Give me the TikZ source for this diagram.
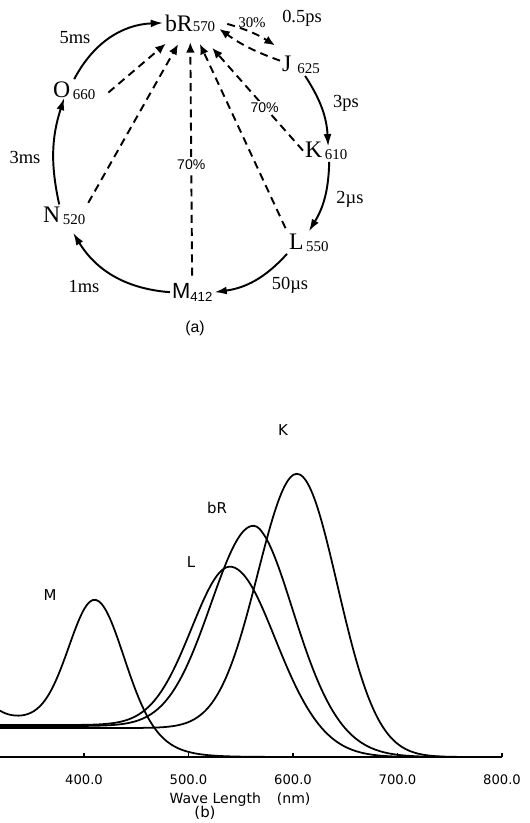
\documentclass[tikz,border=0pt]{standalone}
\usepackage{fontspec}
\setmainfont{Liberation Serif}
\setsansfont{Liberation Sans}
\newfontfamily\plotfont{DejaVu Sans}
\usepackage{tikz}
\usetikzlibrary{positioning,arrows.meta}
\newcommand{\ssub}[1]{\raisebox{-1.5pt}{\fontsize{8.5}{9}\selectfont #1}}

\begin{document}
\begin{tikzpicture}[x=0.02cm, y=-0.02cm,
  state/.style={inner sep=1pt, anchor=base west, font=\fontsize{13.5}{14}\selectfont},
  time/.style={font=\fontsize{10.5}{12}\selectfont},
  flow/.style={line width=1.1pt, -{Latex[length=7pt,width=4.5pt]}},
  back/.style={line width=1.1pt, dash pattern=on 4.5pt off 3pt, -{Latex[length=6pt,width=5pt]}},
  yield/.style={font=\sffamily\fontsize{8}{9}\selectfont, fill=white, inner sep=1pt},
  spec/.style={line width=1pt, smooth, samples=160, domain=319.6:790},
  ticklbl/.style={font=\plotfont\fontsize{7.5}{9}\selectfont},
  plbl/.style={font=\plotfont\fontsize{8.5}{10}\selectfont},
  declare function={
    fade(\lam,\ctr,\wid) = 1/(1+exp(min(8,(\lam-\ctr)/\wid)));
    peak(\lam,\ctr,\wlo,\whi,\pw) = (\lam<\ctr) ? exp(max(-8,0-(abs(\lam-\ctr)/\wlo)^2)) : exp(max(-8,0-((abs(\lam-\ctr)+0.01)/\whi)^\pw));
  }]
\useasboundingbox (0,0) rectangle (529,823);

% (a) photocycle
\node[state] (bR) at (163,31) {bR{\fontsize{8.5}{9}\selectfont570}};
\node[state] (J) at (280,71) {J\hspace{3.5pt}\ssub{625}};
\node[state] (K) at (303,157) {K\hspace{1.5pt}\ssub{610}};
\node[state] (L) at (287,249) {L\hspace{1.5pt}\ssub{550}};
\node[state, font=\sffamily\fontsize{12.5}{13}\selectfont] (M) at (170,298) {M\raisebox{-2pt}{\fontsize{7.5}{8}\selectfont412}};
\node[state] (N) at (41,222) {N\hspace{1.5pt}\ssub{520}};
\node[state] (O) at (51,97) {O\hspace{1.5pt}\ssub{660}};

\draw[flow] (O.north) to[bend left=30] (bR.west);
\draw[flow] (J.-70) to[bend left=15] ([shift={(2,7)}]K.north);
\draw[flow] (K.-75) to[bend left=15] (L.north);
\draw[flow] (L.south west) to[bend left=20] (M.east);
\draw[flow] (M.west) to[bend left=27] ([shift={(9,6)}]N.south);
\draw[flow] ([shift={(-5,0)}]N.north) to[bend left=15] ([shift={(-10,-4)}]O.south);

\draw[back] ([shift={(10,1)}]bR.east) to[bend left=8] ([shift={(-5,-8)}]J.north west);
\draw[back] ([shift={(0,-4)}]J.west) to[bend left=8] ([shift={(2,6)}]bR.east);
\draw[back, shorten >=9pt] ([shift={(11,2)}]O.east) -- (bR);
\draw[back, shorten <=1pt, shorten >=7pt] (N.north east) -- (bR);
\draw[back, shorten <=3pt, shorten >=5pt] (M) -- node[yield, pos=0.47] (yM) {70\%} (bR);
\draw[back, shorten <=2pt, shorten >=6.5pt] (L.north west) -- (bR);
\draw[back, shorten >=11pt] (K.west) -- node[yield, pos=0.37] (yK) {70\%} (bR);

\node[font=\fontsize{8.5}{9}\selectfont] (y30) at (252,23) {30\%};
\node[time] (t05) at (302,18) {0.5ps};
\node[time] (t3ps) at (346,103) {3ps};
\node[time] (t2us) at (350,199) {2µs};
\node[time] (t50us) at (290,285) {50µs};
\node[time] (t1ms) at (84,286) {1ms};
\node[time] (t3ms) at (25,157) {3ms};
\node[time] (t5ms) at (75,38) {5ms};
\node[font=\sffamily\fontsize{9}{10}\selectfont] (capa) at (195,328) {(a)};

% (b) absorption spectra
\begin{scope}[shift={(-334,757)}, x=0.0209cm, y=0.02cm]
  \draw[spec] plot (\x, {(38+8*exp(max(-8,(320-\x)/12)))*fade(\x,465,18) + 121*peak(\x,410.5,35,37,2)});
  \draw[spec] plot (\x, {32*fade(\x,571.6,15) + 162*peak(\x,541.6,54,65,2)});
  \draw[spec] plot (\x, {31*fade(\x,593.6,15) + 203.7*peak(\x,563.6,59,59,1.8)});
  \draw[spec] plot (\x, {29*fade(\x,634.8,15) + 257.5*peak(\x,604.8,54,55,2)});
  \draw[line width=0.9pt] (319.6,0) -- (800,0);
  \foreach \t in {400,500,600,700,800} {
    \draw[line width=0.8pt] (\t,0) -- (\t,4);
    \node[ticklbl] (tk\t) at (\t,-23) {\t.0};
  }
\end{scope}
\node[plbl] (lK) at (283,430) {K};
\node[plbl] (lbR) at (217,508) {bR};
\node[plbl] (lL) at (191,562) {L};
\node[plbl] (lM) at (50,595) {M};
\node[plbl, font=\plotfont\fontsize{8}{10}\selectfont] (xlab) at (240,800) {Wave Length\hspace{9pt}(nm)};
\node[plbl] (capb) at (205,813) {(b)};
\end{tikzpicture}
\end{document}
